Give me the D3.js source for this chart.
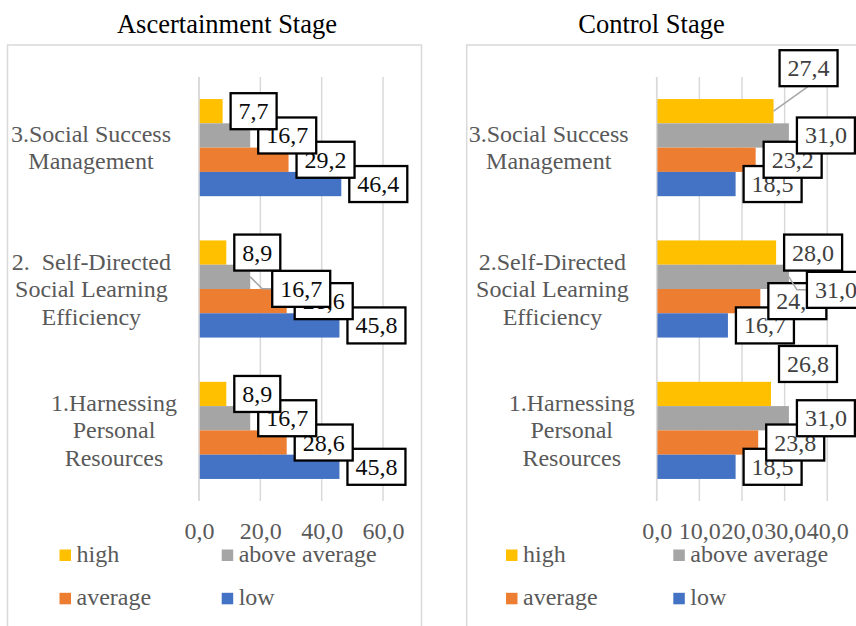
<!DOCTYPE html>
<html lang="en">

<head>
    <meta charset="utf-8">
    <title>Ascertainment and Control Stage</title>
    <style>
        body { margin: 0; background: #fff; }
        svg, svg text { font-family: "Liberation Serif", "Times New Roman", serif !important; }
    </style>
</head>

<body>
    <script type="text/javascript" src="https://cdn.jsdelivr.net/npm/d3@7"></script>
    <script type="text/javascript">
        // categories, top to bottom as they appear in the chart
        var ascCategories = [["3.Social Success", "Management"], ["2.  Self-Directed", "Social Learning", "Efficiency"], ["1.Harnessing", "Personal", "Resources"]];
        var ctlCategories = [["3.Social Success", "Management"], ["2.Self-Directed", "Social Learning", "Efficiency"], ["1.Harnessing", "Personal", "Resources"]];
        var seriesNames = ["high", "above average", "average", "low"];
        var seriesColors = ["#FFC000", "#A5A5A5", "#ED7D31", "#4472C4"];

        // ascertainment stage values (%)
        var ascHigh = [7.7, 8.9, 8.9];
        var ascAbove = [16.7, 16.7, 16.7];
        var ascAverage = [29.2, 28.6, 28.6];
        var ascLow = [46.4, 45.8, 45.8];
        var ascTicks = [0, 20, 40, 60];

        // control stage values (%)
        var ctlHigh = [27.4, 28.0, 26.8];
        var ctlAbove = [31.0, 31.0, 31.0];
        var ctlAverage = [23.2, 24.3, 23.8];
        var ctlLow = [18.5, 16.7, 18.5];
        var ctlTicks = [0, 10, 20, 30, 40];

        // labels that were dragged away from the bar end: [category, series, dx, dy, leader]
        var ascMoved = [[1, 1, 14, 12, true]];
        var ctlMoved = [[0, 0, -2, -43, true], [1, 1, 10, 13, true], [2, 0, 0, -30, false]];

        var W = 856, H = 626;
        var fmt = function(v) { return d3.format(".1f")(v).replace(".", ","); };
        var svg = d3.select("body").append("svg")
            .attr("width", W)
            .attr("height", H)
            .attr("font-family", "Liberation Serif");

        function drawChart(opt) {
            var g = svg.append("g");
            // outer chart border
            g.append("rect")
                .attr("x", opt.boxX).attr("y", 45)
                .attr("width", 414).attr("height", 620)
                .attr("fill", "#fff").attr("stroke", "#d9d9d9").attr("stroke-width", 1.5);
            g.append("text")
                .attr("x", opt.titleX).attr("y", 33)
                .attr("text-anchor", "middle")
                .attr("font-size", 26.5)
                .attr("fill", "#000")
                .text(opt.title);

            var x = d3.scaleLinear().domain(opt.domain).range(opt.xRange);
            var y = d3.scaleBand().domain(d3.range(3)).range([77, 501])
                .paddingInner(0.313).paddingOuter(0.156);
            var ys = d3.scaleBand().domain(d3.range(4)).range([0, y.bandwidth()]);

            //gridlines
            g.selectAll(".grid").data(opt.ticks).enter().append("line")
                .attr("x1", function(d) { return x(d); })
                .attr("x2", function(d) { return x(d); })
                .attr("y1", 77).attr("y2", 501)
                .attr("stroke", "#d9d9d9").attr("stroke-width", 1.5);

            //tick labels
            var axis = d3.axisBottom(x).tickValues(opt.ticks).tickFormat(fmt).tickSize(0);
            var ax = g.append("g").attr("transform", "translate(0,501)").call(axis)
                .attr("font-family", "Liberation Serif");
            ax.select(".domain").remove();
            ax.selectAll("text")
                .attr("y", 38).attr("dy", null)
                .attr("font-size", 24)
                .attr("fill", "#595959");

            //category labels
            opt.categories.forEach(function(lines, ci) {
                var cy = y(ci) + y.bandwidth() / 2;
                var t = g.append("g");
                var texts = lines.map(function(l, li) {
                    return t.append("text")
                        .attr("xml:space", "preserve")
                        .style("white-space", "pre")
                        .attr("y", cy - (lines.length - 1) / 2 * 27.5 + li * 27.5 + 8)
                        .attr("text-anchor", "middle")
                        .attr("font-size", 24)
                        .attr("fill", "#595959")
                        .text(l);
                });
                var bw = d3.max(texts, function(s) { return s.node().getComputedTextLength(); });
                texts.forEach(function(s) { s.attr("x", opt.xRange[0] - opt.labelGap[ci] - bw / 2); });
            });

            //bars
            var rows = [];
            opt.series.forEach(function(vals, si) {
                vals.forEach(function(v, ci) {
                    rows.push({ ci: ci, si: si, v: v });
                });
            });
            g.selectAll(".bar").data(rows).enter().append("rect")
                .attr("x", x(0))
                .attr("y", function(d) { return y(d.ci) + ys(d.si); })
                .attr("width", function(d) { return x(d.v) - x(0); })
                .attr("height", ys.bandwidth())
                .attr("fill", function(d) { return seriesColors[d.si]; });

            // axis line at zero
            g.append("line")
                .attr("x1", x(0)).attr("x2", x(0))
                .attr("y1", 77).attr("y2", 501)
                .attr("stroke", "#d9d9d9").attr("stroke-width", 1.5);

            //data labels, drawn low -> high so the later ones sit on top
            var labels = rows.slice().sort(function(a, b) { return b.si - a.si; });
            labels.forEach(function(d) {
                var ex = x(d.v), ey = y(d.ci) + ys(d.si) + ys.bandwidth() / 2;
                var dx = 0, dy = 0, leader = false;
                opt.moved.forEach(function(m) {
                    if (m[0] === d.ci && m[1] === d.si) { dx = m[2]; dy = m[3]; leader = m[4]; }
                });
                var lg = g.append("g");
                var bx = ex + 8 + dx, cy = ey + dy;
                var txt = lg.append("text")
                    .attr("x", bx + 8).attr("y", cy + 8)
                    .attr("font-size", 24)
                    .attr("fill", opt.labelColor)
                    .text(fmt(d.v));
                var tw = txt.node().getComputedTextLength();
                if (leader) {
                    var pts;
                    if (dy < -25) pts = [[ex, ey], [bx + (tw + 16) / 2, cy + 18]];
                    else pts = [[ex, ey], [bx - 10, cy], [bx, cy]];
                    lg.insert("path", "text")
                        .attr("d", d3.line()(pts))
                        .attr("fill", "none").attr("stroke", "#a6a6a6").attr("stroke-width", 1.5);
                }
                lg.insert("rect", "text")
                    .attr("x", bx).attr("y", cy - 18)
                    .attr("width", tw + 16).attr("height", 36)
                    .attr("fill", "#fff").attr("stroke", "#000").attr("stroke-width", 2.3);
            });

            //legend
            seriesNames.forEach(function(name, i) {
                var lx = opt.legendX[i % 2], ly = i < 2 ? 549.5 : 592.8;
                g.append("rect")
                    .attr("x", lx).attr("y", ly)
                    .attr("width", 11.5).attr("height", 11.5)
                    .attr("fill", seriesColors[i]);
                g.append("text")
                    .attr("x", lx + 17).attr("y", ly + 12.5)
                    .attr("font-size", 24)
                    .attr("fill", "#595959")
                    .text(name);
            });
        }

        drawChart({
            title: "Ascertainment Stage", titleX: 227, boxX: 7.5,
            domain: [0, 60], xRange: [199, 383], ticks: ascTicks,
            categories: ascCategories, labelGap: [28, 28, 22],
            series: [ascHigh, ascAbove, ascAverage, ascLow],
            moved: ascMoved, labelColor: "#0d0d0d",
            legendX: [59.5, 221.7]
        });
        drawChart({
            title: "Control Stage", titleX: 651.5, boxX: 466.7,
            domain: [0, 40], xRange: [656.7, 827.3], ticks: ctlTicks,
            categories: ctlCategories, labelGap: [28, 28, 22],
            series: [ctlHigh, ctlAbove, ctlAverage, ctlLow],
            moved: ctlMoved, labelColor: "#404040",
            legendX: [506, 673.3]
        });
    </script>
</body>

</html>
